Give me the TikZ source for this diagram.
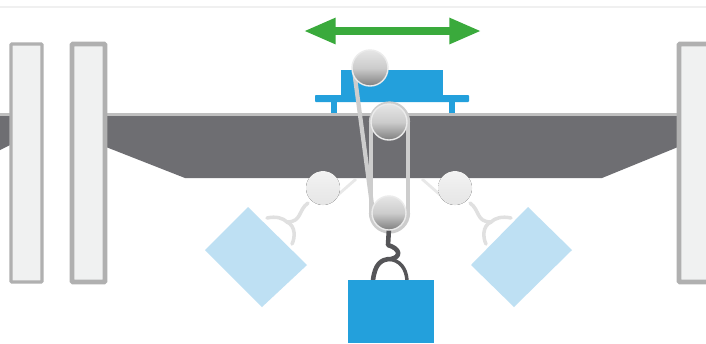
\documentclass[tikz,border=0pt]{standalone}
\usetikzlibrary{arrows.meta}
\definecolor{beamgray}{RGB}{110,110,114}
\definecolor{edgegray}{RGB}{176,176,176}
\definecolor{colfill}{RGB}{240,241,241}
\definecolor{loadblue}{RGB}{35,160,220}
\definecolor{fadeblue}{RGB}{190,224,243}
\definecolor{movegreen}{RGB}{58,170,60}
\definecolor{ropegray}{RGB}{205,205,205}
\definecolor{hookgray}{RGB}{85,85,88}
\tikzset{
  column/.style={fill=colfill, draw=edgegray, line width=1.8pt, rounded corners=0.5pt},
  rope/.style={draw=ropegray, line width=2.4pt},
  faderope/.style={draw=black!9, line width=1.6pt},
  hook/.style={draw=hookgray, line width=2pt, line cap=round, line join=round},
  fadehook/.style={draw=black!12, line width=2pt, line cap=round, line join=round},
  pulley/.style={top color=black!10, bottom color=black!50, middle color=black!20, draw=black!8, line width=0.8pt},
  fadepulley/.style={top color=black!5, bottom color=black!10}
}
\begin{document}
\begin{tikzpicture}[x=0.02cm, y=-0.02cm]
  \useasboundingbox (0,0) rectangle (706,343);
  \fill[white] (0,0) rectangle (706,343);
  \draw[black!6, line width=0.6pt] (0,7) -- (706,7);
  % the sliding block, under the beam
  \fill[loadblue] (341,70) rectangle (443,100);
  \fill[loadblue, rounded corners=0.5pt] (315,95) rectangle (469,102);
  \fill[loadblue] (331,102) rectangle (337,116);
  \fill[loadblue] (449,102) rectangle (455,116);
  % the beam, with the stub left of the first column
  \fill[beamgray] (106,115) -- (678,115) -- (678,147) -- (602,178) -- (185,178) -- (106,147) -- cycle;
  \fill[beamgray] (0,115) -- (10,115) -- (10,145) -- (0,150) -- cycle;
  \draw[black!25, line width=1.3pt] (0,114.5) -- (10,114.5);
  \draw[black!25, line width=1.3pt] (106,114.5) -- (678,114.5);
  % the columns
  \draw[column] (11,44) rectangle (42,282);
  \draw[column, line width=2.6pt] (72,44) rectangle (105,282);
  \draw[column, line width=2.6pt] (679,44) rectangle (712,282);
  % the green arrow
  \draw[movegreen, line width=4pt, {Triangle[length=18pt, width=14pt]}-{Triangle[length=18pt, width=14pt]}] (304,31) -- (481,31);
  % the loads that swing out, faded
  \fill[fadeblue] (248,207) -- (307,265) -- (262,307) -- (205,250) -- cycle;
  \fill[fadeblue] (528,207) -- (572,250) -- (514,307) -- (471,265) -- cycle;
  \draw[faderope] (356,179) -- (332,200);
  \draw[faderope] (422,179) -- (446,200);
  \fill[fadepulley] (323,188) circle (17);
  \fill[fadepulley] (455,188) circle (17);
  \draw[fadehook] (308,203) .. controls (298,210) and (302,222) .. (287,222) .. controls (283,218) and (276,216) .. (267,218);
  \draw[fadehook] (287,222) .. controls (296,226) and (295,238) .. (292,244);
  \draw[fadehook] (470,203) .. controls (480,210) and (476,222) .. (491,222) .. controls (495,218) and (502,216) .. (511,218);
  \draw[fadehook] (491,222) .. controls (482,226) and (483,238) .. (486,244);
  % the ropes round the pulleys
  \draw[rope] (354,70) -- (372,205);
  \draw[rope] (371,122) -- (371,213);
  \draw[rope] (408,122) -- (408,213);
  \draw[rope] (371,213) arc[start angle=180, end angle=0, radius=18.5];
  \draw[rope] (371,122) arc[start angle=180, end angle=360, radius=18.5];
  \draw[hook, line width=2.6pt] (389,228) -- (388,245) .. controls (401,249) and (401,257) .. (391,259) .. controls (381,259) and (375,264) .. (373,280);
  \draw[hook] (388,259) .. controls (400,260) and (406,268) .. (407,280);
  % the pulleys
  \shade[pulley] (370,68) circle (18);
  \shade[pulley] (389,122) circle (18);
  \shade[pulley] (389,213) circle (17);
  % the load
  \fill[loadblue] (348,280) rectangle (434,343);
\end{tikzpicture}
\end{document}
